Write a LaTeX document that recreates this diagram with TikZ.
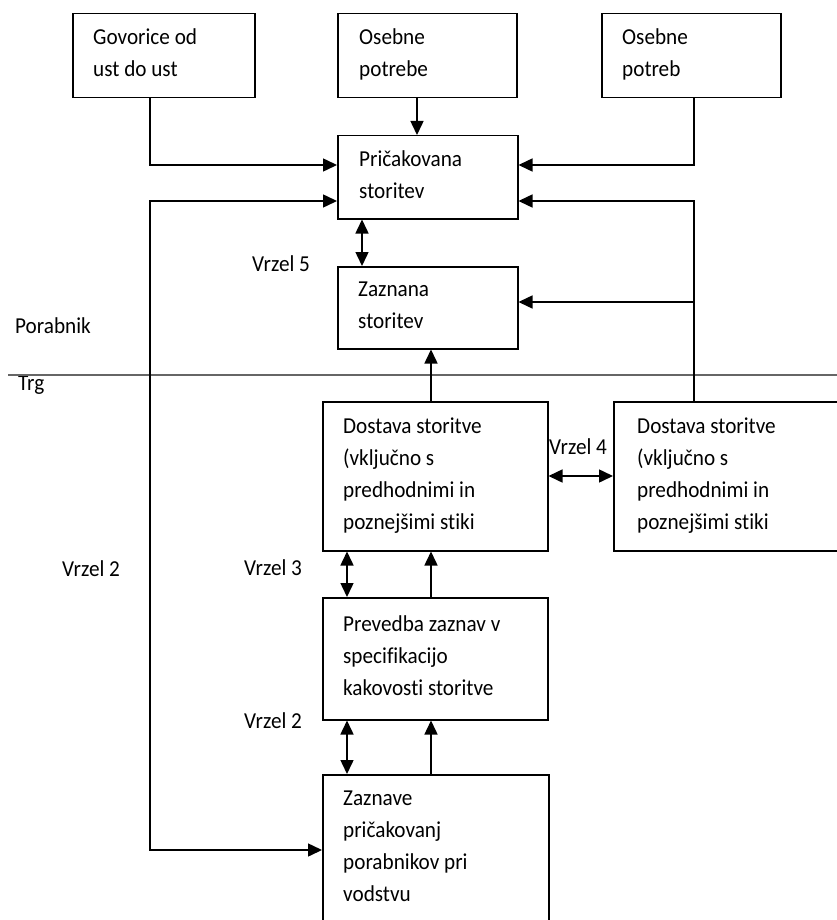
\documentclass[tikz,border=0pt]{standalone}
\usepackage{fontspec}
\setmainfont{Carlito}[Ligatures=NoCommon, FakeStretch=0.93]
\usetikzlibrary{arrows.meta,calc}
\newcommand{\fsz}{\fontsize{22.8}{32}\selectfont}
\newcommand{\lines}[1]{\begin{tabular}[t]{@{}l@{}}#1\end{tabular}}
\begin{document}
\begin{tikzpicture}[x=1pt,y=-1pt,
  box/.style={draw, line width=1.5pt, inner sep=0pt, anchor=north west},
  txt/.style={inner sep=0pt, anchor=base west, font=\fsz},
  arr/.style={-{Triangle[length=14pt,width=13pt]}, line width=1.5pt},
  darr/.style={{Triangle[length=14pt,width=13pt]}-{Triangle[length=14pt,width=13pt]}, line width=1.5pt},
  sepline/.style={line width=2.4pt, black!60}]
\useasboundingbox (0,0) rectangle (837,920);
% boxes
\node[box, minimum width=182pt, minimum height=84pt] (b1) at (72,13) {};
\node[box, minimum width=179pt, minimum height=84pt] (b2) at (337,13) {};
\node[box, minimum width=179pt, minimum height=84pt] (b3) at (601,13) {};
\node[box, minimum width=180pt, minimum height=83pt] (pe) at (337,135) {};
\node[box, minimum width=180pt, minimum height=82pt] (pz) at (337,266) {};
\node[box, minimum width=225pt, minimum height=149pt] (d1) at (322,401) {};
\node[box, minimum width=240pt, minimum height=149pt] (d2) at (613,401) {};
\node[box, minimum width=225pt, minimum height=122pt] (pr) at (322,597) {};
\node[box, minimum width=226pt, minimum height=160pt] (za) at (322,774) {};
% box texts
\node[txt] (b1t) at (93,45) {\lines{Govorice od\\ust do ust}};
\node[txt] (b2t) at (359,45) {\lines{Osebne\\potrebe}};
\node[txt] (b3t) at (622,45) {\lines{Osebne\\potreb}};
\node[txt] (pet) at (359,167) {\lines{Pričakovana\\storitev}};
\node[txt] (pzt) at (358,296) {\lines{Zaznana\\storitev}};
\node[txt] (d1t) at (343,433) {\lines{Dostava storitve\\(vključno s\\predhodnimi in\\poznejšimi stiki}};
\node[txt] (d2t) at (637,433) {\lines{Dostava storitve\\(vključno s\\predhodnimi in\\poznejšimi stiki}};
\node[txt] (prt) at (343,631) {\lines{Prevedba zaznav v\\specifikacijo\\kakovosti storitve}};
\node[txt] (zat) at (343,805) {\lines{Zaznave\\pričakovanj\\porabnikov pri\\vodstvu}};
% free labels
\node[txt] (v5) at (252,271) {Vrzel 5};
\node[txt] (por) at (15,333) {Porabnik};
\node[txt] (trg) at (18,390) {Trg};
\node[txt] (v4) at (549,454) {Vrzel 4};
\node[txt] (v3) at (244,575) {Vrzel 3};
\node[txt] (v2m) at (244,728) {Vrzel 2};
\node[txt] (v2l) at (62,576) {Vrzel 2};
% separator
\coordinate (sl) at (8,375);
\coordinate (sr) at (837,375);
\draw[sepline] (sl) -- (sr);
% connectors
\coordinate (j) at (694,302);
\draw[arr] (b1.south -| 150,0) |- (pe.west |- 0,165);
\draw[arr] (b2.south -| 417,0) -- (pe.north -| 417,0);
\draw[arr] (b3.south -| 694,0) |- (pe.east |- 0,165);
\draw[darr] (pe.west |- 0,201) -| (150,850) -- (za.west |- 0,850);
\draw[arr] (d2.north -| 694,0) |- (pe.east |- 0,201);
\draw[arr] (j) -- (pz.east |- j);
\draw[darr] (pe.south -| 362,0) -- (pz.north -| 362,0);
\draw[arr] (d1.north -| 431,0) -- (pz.south -| 431,0);
\draw[darr] (d1.east |- 0,476) -- (d2.west |- 0,476);
\draw[darr] (d1.south -| 347,0) -- (pr.north -| 347,0);
\draw[arr] (pr.north -| 431,0) -- (d1.south -| 431,0);
\draw[darr] (pr.south -| 347,0) -- (za.north -| 347,0);
\draw[arr] (za.north -| 431,0) -- (pr.south -| 431,0);
\end{tikzpicture}
\end{document}
